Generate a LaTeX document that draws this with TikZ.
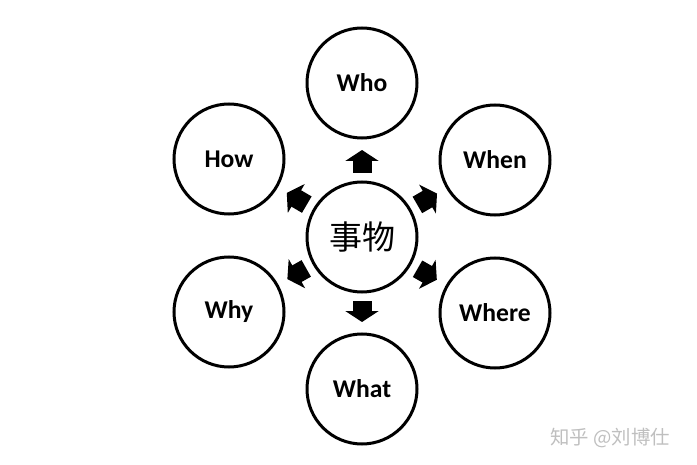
\documentclass[tikz,border=0pt]{standalone}
\usepackage{fontspec}
\setmainfont{Carlito}
\newfontfamily\cjk{Noto Sans CJK SC}
\usetikzlibrary{arrows.meta}
\tikzset{
  ring/.style={circle,draw,line width=1.5pt,minimum size=55pt,inner sep=0pt,
               font=\bfseries\fontsize{12.8}{14}\selectfont},
  push/.style={line width=9.5pt,-{Triangle[width=16.5pt,length=5.5pt]},
               shorten <=3.75pt,shorten >=5.25pt}
}
\begin{document}
\begin{tikzpicture}[x=0.5pt,y=-0.5pt]
   \useasboundingbox (0,0) rectangle (697,465);
   % centre and the six questions
   \node[ring,font=\cjk\fontsize{16.5}{18}\selectfont] (thing) at (362,237) {事物};
   \node[ring] (who)   at (362,83)  {Who};
   \node[ring] (when)  at (495,160) {When};
   \node[ring] (where) at (495,313) {Where};
   \node[ring] (what)  at (362,389) {What};
   \node[ring] (why)   at (229,312) {Why};
   \node[ring] (how)   at (229,159) {How};
   % block arrows
   \draw[push] (thing) -- (who);
   \draw[push] (thing) -- (when);
   \draw[push] (thing) -- (where);
   \draw[push] (thing) -- (what);
   \draw[push] (thing) -- (why);
   \draw[push] (thing) -- (how);
   % watermark
   \node[text=black!25,font=\cjk\fontsize{9.7}{11}\selectfont] (credit) at (610,438) {知乎 @刘博仕};
\end{tikzpicture}
\end{document}
